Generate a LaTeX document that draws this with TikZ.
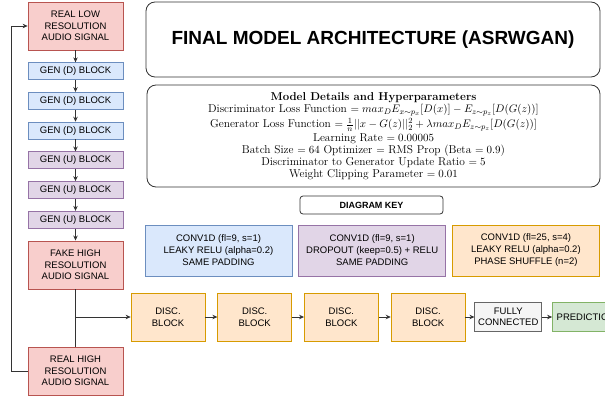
\documentclass[tikz,border=0pt]{standalone}
\usepackage{fontspec}
\setsansfont{Liberation Sans}
\usetikzlibrary{arrows.meta, positioning}

\definecolor{sigfill}{HTML}{F8CECC}
\definecolor{sigdraw}{HTML}{B85450}
\definecolor{dfill}{HTML}{DAE8FC}
\definecolor{ddraw}{HTML}{6C8EBF}
\definecolor{ufill}{HTML}{E1D5E7}
\definecolor{udraw}{HTML}{9673A6}
\definecolor{cfill}{HTML}{FFE6CC}
\definecolor{cdraw}{HTML}{D79B00}
\definecolor{fcfill}{HTML}{F5F5F5}
\definecolor{fcdraw}{HTML}{666666}
\definecolor{pfill}{HTML}{D5E8D4}
\definecolor{pdraw}{HTML}{82B366}

\begin{document}
\begin{tikzpicture}[
  x=1pt, y=-1pt,
  >={Stealth[length=5pt,width=4.5pt]},
  box/.style={draw, rectangle, align=center, inner sep=1pt, line width=0.7pt, font=\sffamily\fontsize{9.5}{11.5}\selectfont},
  signal/.style={box, fill=sigfill, draw=sigdraw, minimum width=95pt, minimum height=48pt},
  gend/.style={box, fill=dfill, draw=ddraw, minimum width=95pt, minimum height=17pt},
  genu/.style={box, fill=ufill, draw=udraw, minimum width=95pt, minimum height=17pt},
  disc/.style={box, fill=cfill, draw=cdraw, minimum width=74pt, minimum height=48pt},
  fc/.style={box, fill=fcfill, draw=fcdraw, minimum width=67pt, minimum height=29pt},
  pred/.style={box, fill=pfill, draw=pdraw, minimum width=67pt, minimum height=29pt},
  keybox/.style={box, minimum width=147pt, minimum height=51pt, font=\sffamily\fontsize{9.5}{12}\selectfont},
  panel/.style={draw=black!80, rectangle, rounded corners=9pt, line width=0.8pt, align=center},
  arrow/.style={->, line width=0.8pt, black!80},
  line/.style={line width=0.8pt, black!80}
]
\useasboundingbox (0,0) rectangle (605,396);
\clip (0,0) rectangle (605,396);

% Generator chain (left column)
\node[signal] (reallow) at (75.5,26) {REAL LOW\\RESOLUTION\\AUDIO SIGNAL};
\node[gend, below=12pt of reallow] (gend1) {GEN (D) BLOCK};
\node[gend, below=12pt of gend1] (gend2) {GEN (D) BLOCK};
\node[gend, below=12pt of gend2] (gend3) {GEN (D) BLOCK};
\node[genu, below=12pt of gend3] (genu1) {GEN (U) BLOCK};
\node[genu, below=12pt of genu1] (genu2) {GEN (U) BLOCK};
\node[genu, below=12pt of genu2] (genu3) {GEN (U) BLOCK};
\node[signal, below=12pt of genu3] (fake) {FAKE HIGH\\RESOLUTION\\AUDIO SIGNAL};
\node[signal] (realhigh) at (75.5,371) {REAL HIGH\\RESOLUTION\\AUDIO SIGNAL};

\draw[arrow] (reallow) -- (gend1);
\draw[arrow] (gend1) -- (gend2);
\draw[arrow] (gend2) -- (gend3);
\draw[arrow] (gend3) -- (genu1);
\draw[arrow] (genu1) -- (genu2);
\draw[arrow] (genu2) -- (genu3);
\draw[arrow] (genu3) -- (fake);

% Title and hyperparameters
\node[panel, minimum width=454pt, minimum height=75pt, font=\sffamily\bfseries\fontsize{19}{22}\selectfont]
  (title) at (373,39.5) {FINAL MODEL ARCHITECTURE (ASRWGAN)};
\node[panel, minimum width=453pt, minimum height=102pt, font=\fontsize{11.4}{12}\selectfont]
  (details) at (373.5,136) {\textbf{Model Details and Hyperparameters}\\
  Discriminator Loss Function $= max_D E_{x\sim p_x}[D(x)] - E_{z\sim p_z}[D(G(z))]$\\[1.5pt]
  Generator Loss Function $= \frac{1}{n}||x-G(z)||_2^2 + \lambda max_D E_{z\sim p_z}[D(G(z))]$\\[1.5pt]
  Learning Rate $= 0.00005$\\
  Batch Size $= 64$ Optimizer $=$ RMS Prop (Beta $= 0.9$)\\
  Discriminator to Generator Update Ratio $= 5$\\
  Weight Clipping Parameter $= 0.01$};

% Diagram key
\node[panel, rounded corners=3pt, minimum width=143pt, minimum height=18pt, font=\sffamily\bfseries\fontsize{9}{11}\selectfont]
  (keytitle) at (371.5,205) {DIAGRAM KEY};
\node[keybox, fill=dfill, draw=ddraw] (keyd) at (218.5,250.5)
  {CONV1D (fl=9, s=1)\\LEAKY RELU (alpha=0.2)\\SAME PADDING};
\node[keybox, fill=ufill, draw=udraw, right=6pt of keyd] (keyu)
  {CONV1D (fl=9, s=1)\\DROPOUT (keep=0.5) + RELU\\SAME PADDING};
\node[keybox, fill=cfill, draw=cdraw, right=6pt of keyu] (keyc)
  {CONV1D (fl=25, s=4)\\LEAKY RELU (alpha=0.2)\\PHASE SHUFFLE (n=2)};

% Discriminator chain
\node[disc] (disc1) at (168,317) {DISC.\\BLOCK};
\node[disc, right=12pt of disc1] (disc2) {DISC.\\BLOCK};
\node[disc, right=12pt of disc2] (disc3) {DISC.\\BLOCK};
\node[disc, right=12pt of disc3] (disc4) {DISC.\\BLOCK};
\node[fc, right=9pt of disc4] (fully) {FULLY\\CONNECTED};
\node[pred, right=10pt of fully] (prediction) {PREDICTION};

\draw[arrow] (disc1) -- (disc2);
\draw[arrow] (disc2) -- (disc3);
\draw[arrow] (disc3) -- (disc4);
\draw[arrow] (disc4) -- (fully);
\draw[arrow] (fully) -- (prediction);

% Fake and real signals into the discriminator
\coordinate (split) at (fake.south |- disc1.west);
\draw[line] (fake) -- (realhigh);
\draw[arrow] (split) -- (disc1);

% Feedback back to the input
\draw[arrow] (realhigh.west) -- ++(-16,0) |- (reallow.west);

\end{tikzpicture}
\end{document}
